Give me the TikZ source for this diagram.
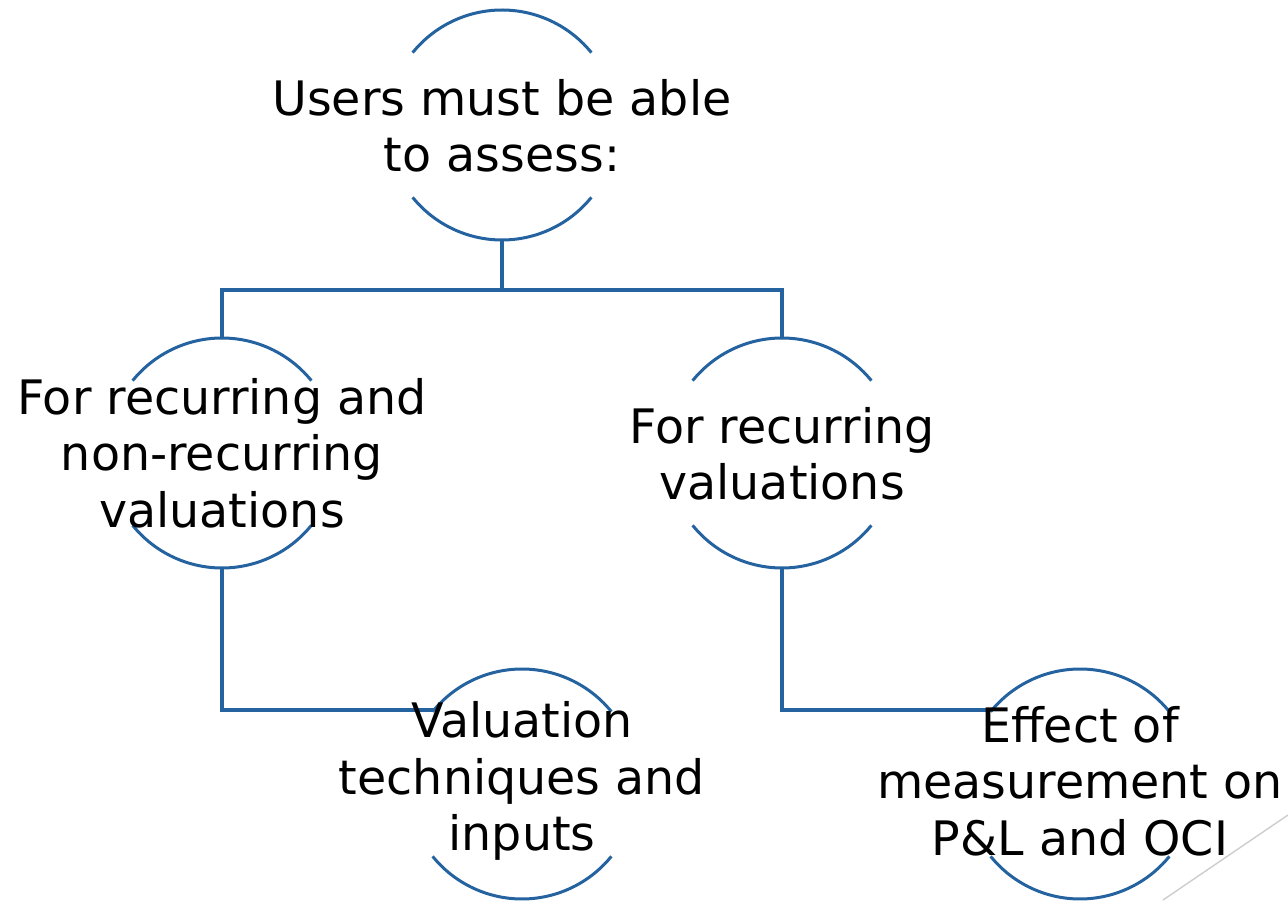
\documentclass[tikz,border=0pt]{standalone}
\usepackage{fontspec}
\setmainfont{DejaVu Sans}
\definecolor{linkblue}{RGB}{36,98,160}
\definecolor{decogray}{RGB}{205,205,205}
\begin{document}
\begin{tikzpicture}[x=1pt,y=1pt,
  ring/.style={circle,draw=none,minimum size=230pt,inner sep=0pt,outer sep=0pt},
  label/.style={align=center,inner sep=0pt,font=\fontsize{47.5}{56.5}\selectfont},
  arcline/.style={draw=linkblue,line width=3pt},
  conn/.style={draw=linkblue,line width=3.6pt}]
\useasboundingbox (0,0) rectangle (1288,900);

% circle frames (only their top and bottom arcs are drawn)
\node[ring] (cTop)   at (502,775) {};
\node[ring] (cLeft)  at (222,447) {};
\node[ring] (cRight) at (782,447) {};
\node[ring] (cBL)    at (522,116) {};
\node[ring] (cBR)    at (1080,116) {};

\foreach \c in {cTop,cLeft,cRight,cBL,cBR}{
  \draw[arcline] (\c.39) arc[start angle=39,end angle=141,radius=115pt];
  \draw[arcline] (\c.219) arc[start angle=219,end angle=321,radius=115pt];
}

% connectors
\coordinate (bus) at (502,610);
\draw[conn] (cTop.south) -- (bus);
\draw[conn] (cLeft.north) |- (bus) -| (cRight.north);
\draw[conn] (cLeft.south) |- (cBL.140);
\draw[conn] (cRight.south) |- (cBR.140);

% texts
\node[label] (tTop)   at (502,774) {Users must be able\\to assess:};
\node[label] (tLeft)  at (222,447) {For recurring and\\non-recurring\\valuations};
\node[label] (tRight) at (782,446) {For recurring\\valuations};
\node[label] (tBL)    at (522,119) {Valuation\\techniques and\\inputs};
\node[label] (tBR)    at (1080,119) {Effect of\\measurement on\\P\&L and OCI};

% decorative corner line
\coordinate (decoA) at (1288,85);
\coordinate (decoB) at (1163,0);
\draw[decogray,line width=1.4pt] (decoA) -- (decoB);
\end{tikzpicture}
\end{document}
